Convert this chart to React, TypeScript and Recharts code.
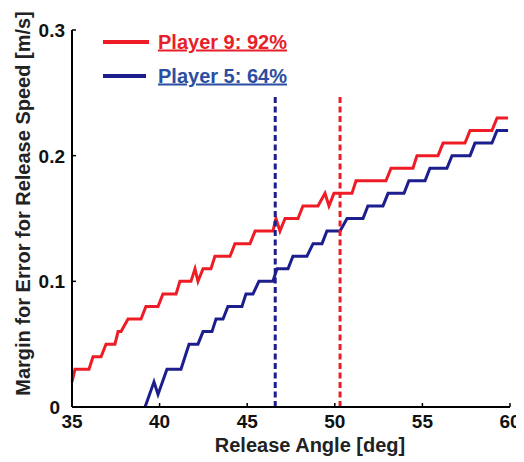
import React from 'react';
import { LineChart, Line, XAxis, YAxis, ReferenceLine, Legend } from 'recharts';

const seriesNames = ['Player 9: 92%', 'Player 5: 64%'];
const seriesColors = ['#ee1c25', '#1c1e8e'];
const legendTextColors = ['#e8202a', '#2a4ea0'];

const redAngle = [35.0, 35.17, 35.97, 36.2, 36.66, 36.94, 37.45, 37.63, 37.8, 38.2, 38.94, 39.22, 39.91, 40.19, 40.94, 41.16, 41.79, 42.02, 42.19, 42.48, 42.93, 43.16, 44.02, 44.3, 45.16, 45.45, 46.47, 46.64, 46.87, 47.16, 47.9, 48.18, 49.04, 49.44, 49.67, 49.95, 50.98, 51.21, 52.92, 53.21, 54.46, 54.69, 55.89, 56.18, 57.43, 57.72, 58.97, 59.26, 59.89];
const redMargin = [0.02, 0.03, 0.03, 0.04, 0.04, 0.05, 0.05, 0.06, 0.06, 0.07, 0.07, 0.08, 0.08, 0.09, 0.09, 0.1, 0.1, 0.11, 0.1, 0.11, 0.11, 0.12, 0.12, 0.13, 0.13, 0.14, 0.14, 0.15, 0.14, 0.15, 0.15, 0.16, 0.16, 0.17, 0.16, 0.17, 0.17, 0.18, 0.18, 0.19, 0.19, 0.2, 0.2, 0.21, 0.21, 0.22, 0.22, 0.23, 0.23];

const blueAngle = [39.17, 39.68, 39.91, 40.42, 41.22, 41.68, 42.19, 42.48, 42.99, 43.22, 43.62, 43.9, 44.7, 44.93, 45.33, 45.67, 46.47, 46.7, 47.33, 47.61, 48.41, 48.76, 49.27, 49.55, 50.3, 50.7, 51.61, 51.89, 52.75, 53.04, 53.95, 54.23, 55.15, 55.43, 56.4, 56.69, 57.72, 58.0, 58.97, 59.26, 59.89];
const blueMargin = [0, 0.02, 0.01, 0.03, 0.03, 0.05, 0.05, 0.06, 0.06, 0.07, 0.07, 0.08, 0.08, 0.09, 0.09, 0.1, 0.1, 0.11, 0.11, 0.12, 0.12, 0.13, 0.13, 0.14, 0.14, 0.15, 0.15, 0.16, 0.16, 0.17, 0.17, 0.18, 0.18, 0.19, 0.19, 0.2, 0.2, 0.21, 0.21, 0.22, 0.22];

// optimal release angles (dashed markers)
const optimalAngles = [50.3, 46.6];
const markerTop = 0.247;

const xTicks = [35, 40, 45, 50, 55, 60];
const yTicks = [0, 0.1, 0.2, 0.3];
const xTitle = 'Release Angle [deg]';
const yTitle = 'Margin for Error for Release Speed [m/s]';

const redData = redAngle.map((a, i) => ({ angle: a, margin: redMargin[i] }));
const blueData = blueAngle.map((a, i) => ({ angle: a, margin: blueMargin[i] }));

const FONT = '"Liberation Sans", Arial, Helvetica, sans-serif';

const XTick = (props: any) => {
  const { x, y, payload } = props;
  return (
    <g>
      <line x1={x} y1={y} x2={x} y2={y - 4} stroke="#000" strokeWidth={1.5} />
      <text x={x} y={y + 21} textAnchor="middle" fontFamily={FONT} fontWeight="bold" fontSize={19} fill="#111">
        {payload.value}
      </text>
    </g>
  );
};

const YTick = (props: any) => {
  const { x, y, payload } = props;
  const dx = payload.value === 0 ? -5 : 0;
  return (
    <g>
      <line x1={x} y1={y} x2={x + 4} y2={y} stroke="#000" strokeWidth={1.5} />
      <text x={x - 7 + dx} y={y + 7} textAnchor="end" fontFamily={FONT} fontWeight="bold" fontSize={19} fill="#111">
        {String(payload.value)}
      </text>
    </g>
  );
};

const LegendContent = () => {
  return (
    <svg width={516} height={100} style={{ display: 'block', overflow: 'visible' }}>
      {seriesNames.map((name, i) => {
        const yLine = 34 + i * 34;
        return (
          <g key={name}>
            <line x1={95} y1={yLine} x2={i === 0 ? 141 : 138} y2={yLine} stroke={seriesColors[i]} strokeWidth={4} />
            <text
              x={150}
              y={yLine + 6.5}
              fontFamily={FONT}
              fontWeight="bold"
              fontSize={20}
              fill={legendTextColors[i]}
              textDecoration="underline"
            >
              {name}
            </text>
          </g>
        );
      })}
    </svg>
  );
};

export default function App() {
  return (
    <div style={{ width: 516, height: 454 }}>
      <LineChart width={516} height={454} margin={{ top: 22, right: 14, left: 0, bottom: 0 }}>
        <XAxis
          type="number"
          dataKey="angle"
          domain={[35, 60]}
          ticks={xTicks}
          height={55}
          tickSize={0}
          tickMargin={0}
          tickLine={false}
          tick={<XTick />}
          axisLine={{ stroke: '#000', strokeWidth: 2 }}
          allowDuplicatedCategory={false}
          label={{
            content: () => (
              <text x={302} y={444} textAnchor="middle" fontFamily={FONT} fontWeight="bold" fontSize={20} fill="#222">
                {xTitle}
              </text>
            ),
          }}
        />
        <YAxis
          type="number"
          domain={[0, 0.3]}
          ticks={yTicks}
          width={64}
          tickSize={0}
          tickMargin={0}
          tickLine={false}
          tick={<YTick />}
          axisLine={{ stroke: '#000', strokeWidth: 2 }}
          label={{
            content: () => (
              <text
                x={22}
                y={195.5}
                transform="rotate(-90 22 195.5)"
                textAnchor="middle"
                fontFamily={FONT}
                fontWeight="bold"
                fontSize={20}
                fill="#222"
              >
                {yTitle}
              </text>
            ),
          }}
        />
        <Legend
          layout="horizontal"
          verticalAlign="middle"
          align="center"
          content={<LegendContent />}
          wrapperStyle={{ left: 0, top: 0, width: 516, height: 100, pointerEvents: 'none' }}
        />
        <Line
          data={redData}
          dataKey="margin"
          name={seriesNames[0]}
          stroke={seriesColors[0]}
          strokeWidth={3}
          dot={false}
          type="linear"
          isAnimationActive={false}
        />
        <Line
          data={blueData}
          dataKey="margin"
          name={seriesNames[1]}
          stroke={seriesColors[1]}
          strokeWidth={3}
          dot={false}
          type="linear"
          isAnimationActive={false}
        />
        <ReferenceLine
          segment={[{ x: optimalAngles[1], y: 0 }, { x: optimalAngles[1], y: markerTop }]}
          stroke={seriesColors[1]}
          strokeWidth={3}
          strokeDasharray="6 3.5"
        />
        <ReferenceLine
          segment={[{ x: optimalAngles[0], y: 0 }, { x: optimalAngles[0], y: markerTop }]}
          stroke={seriesColors[0]}
          strokeWidth={3}
          strokeDasharray="6 3.5"
        />
      </LineChart>
    </div>
  );
}
